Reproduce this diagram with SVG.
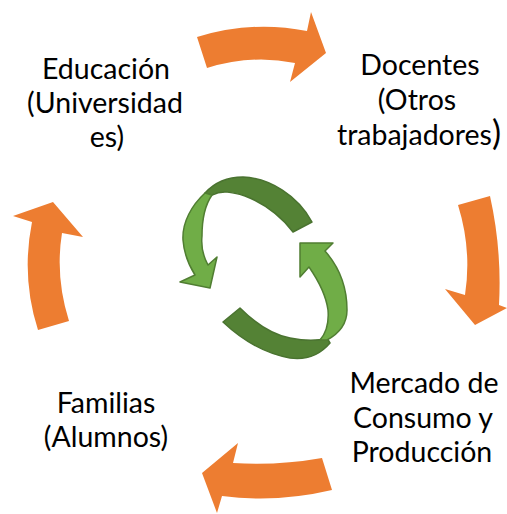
<svg xmlns="http://www.w3.org/2000/svg" width="507" height="514" viewBox="0 0 507 514">
<style>
.orange{fill:#ED7D31;}
.dark{fill:#548235;stroke:#4A7330;stroke-width:1.5;stroke-linejoin:round;}
.light{fill:#70AD47;stroke:#507E32;stroke-width:1.5;stroke-linejoin:round;}
.lbl{font-family:Lato,"Liberation Sans",sans-serif;font-size:28.5px;fill:#000;text-anchor:middle;}
</style>
<rect width="507" height="514" fill="#fff"/>
<g id="connectors">
<path class="orange" d="M197,37 Q252,20 307,31 L311,12 L326,53 L290,82 L295,63 Q252,54 207,68 Z"/>
<path class="orange" d="M458,205 L490,196 Q502,250 499,305 L507,308 L475,325 L445,289 L465,295 Q472,250 458,205 Z"/>
<path class="orange" d="M322,458 L332,490 Q277,503 222,496 L217,513 L202,473 L238,443 L233,463 Q277,466 322,458 Z"/>
<path class="orange" d="M38,330 L69,321 Q55,277 62,233 L83,237 L53,202 L13,216 L32,222 Q21,277 38,330 Z"/>
<g id="cycle">
<path class="dark" d="M312,222 C298,196 270,178 243,177 C228,177 215,182 205,193 L212,195 C222,190 232,192 245,196 C263,203 280,215 293,232 Z"/>
<path class="light" d="M205,193 C192,205 182,222 183,240 C184,253 188,264 195,275 L180,282 L210,288 L217,257 L208,265 C203,256 201,246 202,236 C202,220 205,205 212,195 Z"/>
<path class="dark" d="M223,322 C240,338 262,353 290,358 C305,360 318,357 330,343 L327,338 C318,341 305,341 290,338 C270,334 254,322 240,308 Z"/>
<path class="light" d="M327,340 C340,333 347,322 347,310 C347,288 340,268 325,251 L333,243 L300,243 L300,277 L309,267 C318,280 326,295 328,310 C329,322 327,332 320,340 Z"/>
</g>
</g>
<g id="node-educacion">
<text class="lbl" x="106" y="79">Educación</text>
<text class="lbl" x="105" y="113">(Universidad</text>
<text class="lbl" x="107" y="147">es)</text>
</g>
<g id="node-docentes">
<text class="lbl" x="420" y="75">Docentes</text>
<text class="lbl" x="417" y="110">(Otros</text>
<text class="lbl" x="419" y="145">trabajadores<tspan font-size="34">)</tspan></text>
</g>
<g id="node-mercado">
<text class="lbl" x="424" y="393">Mercado de</text>
<text class="lbl" x="423" y="428">Consumo y</text>
<text class="lbl" x="422" y="462">Producción</text>
</g>
<g id="node-familias">
<text class="lbl" x="106" y="413">Familias</text>
<text class="lbl" x="106" y="447">(Alumnos)</text>
</g>
</svg>
